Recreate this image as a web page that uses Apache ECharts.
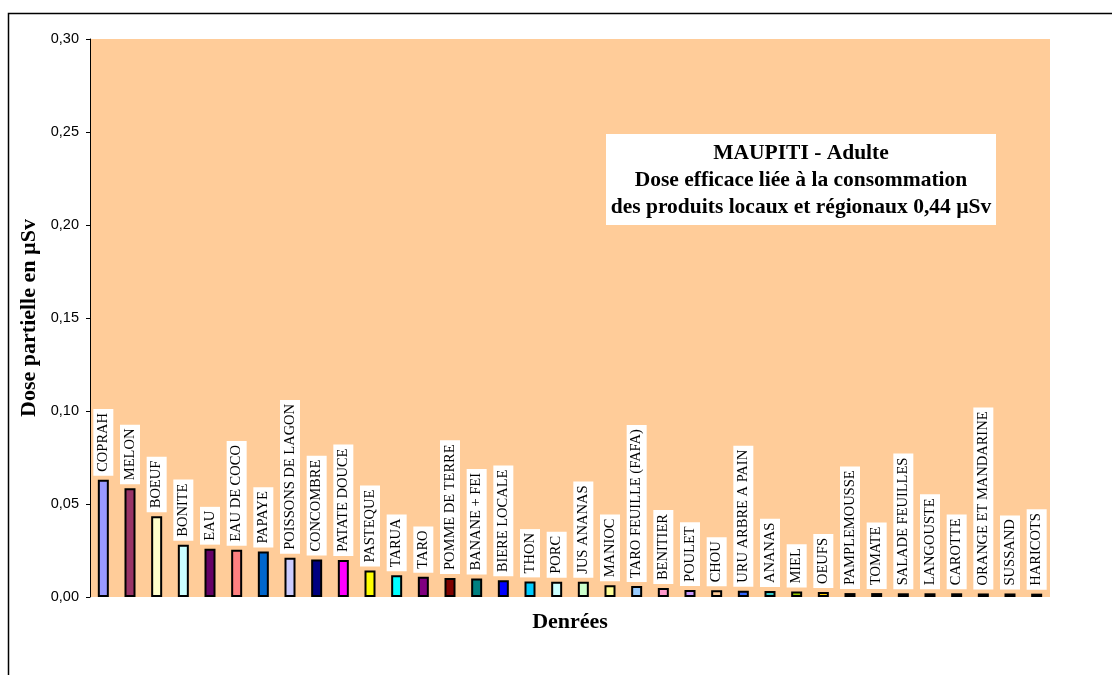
<!DOCTYPE html>
<html>
<head>
<meta charset="utf-8">
<script src="https://cdn.jsdelivr.net/npm/echarts@6/dist/echarts.min.js"></script>
<style>
  html, body { margin: 0; padding: 0; background: #ffffff; }
  #chart { width: 1112px; height: 675px; }
</style>
</head>
<body>
<div id="chart"></div>
<script>
// Food items, in decreasing order of partial dose
const categories = [
  'COPRAH', 'MELON', 'BOEUF', 'BONITE', 'EAU', 'EAU DE COCO', 'PAPAYE',
  'POISSONS DE LAGON', 'CONCOMBRE', 'PATATE DOUCE', 'PASTEQUE', 'TARUA', 'TARO',
  'POMME DE TERRE', 'BANANE + FEI', 'BIERE LOCALE', 'THON', 'PORC', 'JUS ANANAS',
  'MANIOC', 'TARO FEUILLE (FAFA)', 'BENITIER', 'POULET', 'CHOU', 'URU ARBRE A PAIN',
  'ANANAS', 'MIEL', 'OEUFS', 'PAMPLEMOUSSE', 'TOMATE', 'SALADE FEUILLES',
  'LANGOUSTE', 'CAROTTE', 'ORANGE ET MANDARINE', 'SUSSAND', 'HARICOTS'
];

// Partial dose (µSv) per food item
const doses = [
  0.063, 0.0585, 0.0434, 0.0281, 0.026, 0.0254, 0.0244,
  0.0211, 0.0201, 0.0199, 0.0143, 0.0117, 0.0109,
  0.0102, 0.0099, 0.009, 0.0084, 0.0082, 0.0082,
  0.0063, 0.0059, 0.0048, 0.0038, 0.0036, 0.0034,
  0.0032, 0.0029, 0.0027, 0.0021, 0.0021, 0.0020,
  0.0020, 0.0020, 0.0019, 0.0019, 0.0018
];

// Fill colour of each bar
const barColors = [
  '#9999FF', '#993366', '#FFFFCC', '#CCFFFF', '#660066', '#FF8080', '#0066CC',
  '#CCCCFF', '#000080', '#FF00FF', '#FFFF00', '#00FFFF', '#800080',
  '#800000', '#008080', '#0000FF', '#00CCFF', '#CCFFFF', '#CCFFCC',
  '#FFFF99', '#99CCFF', '#FF99CC', '#CC99FF', '#FFCC99', '#3366FF',
  '#33CCCC', '#99CC00', '#FFCC00', '#FF9900', '#FF6600', '#666699',
  '#969696', '#003366', '#339966', '#003300', '#333300'
];

// Y axis scale
const yMin = 0, yMax = 0.30, yStep = 0.05;

const titleLines = [
  'MAUPITI - Adulte',
  'Dose efficace liée à la consommation',
  'des produits locaux et régionaux 0,44 µSv'
];

const serif = '"Liberation Serif", "Times New Roman", Times, serif';
const sans = '"Liberation Sans", Arial, Helvetica, sans-serif';

const chart = echarts.init(document.getElementById('chart'));

chart.setOption({
  animation: false,
  backgroundColor: '#ffffff',
  grid: {
    left: 90, right: 62, top: 39, bottom: 78,
    show: true, backgroundColor: '#FFCC99', borderWidth: 0
  },
  xAxis: {
    type: 'category',
    data: categories,
    name: 'Denrées',
    nameLocation: 'middle',
    nameGap: 14,
    nameTextStyle: { fontFamily: serif, fontWeight: 'bold', fontSize: 22, color: '#000' },
    axisLine: { show: false },
    axisTick: { show: false },
    axisLabel: { show: false },
    splitLine: { show: false }
  },
  yAxis: {
    type: 'value',
    min: yMin, max: yMax, interval: yStep,
    name: 'Dose partielle en µSv',
    nameLocation: 'middle',
    nameGap: 49,
    nameTextStyle: { fontFamily: serif, fontWeight: 'bold', fontSize: 22, color: '#000' },
    axisLine: { show: true, lineStyle: { color: '#000', width: 1 } },
    axisTick: { show: true, inside: false, length: 4, lineStyle: { color: '#000' } },
    axisLabel: {
      fontFamily: sans, fontSize: 14.5, color: '#000', margin: 11,
      formatter: v => v.toFixed(2).replace('.', ',')
    },
    splitLine: { show: false }
  },
  series: [{
    type: 'bar',
    data: doses,
    barWidth: 11,
    itemStyle: {
      color: p => barColors[p.dataIndex],
      borderColor: '#000',
      borderWidth: 2
    },
    label: {
      show: true,
      position: 'top',
      rotate: 90,
      align: 'left',
      verticalAlign: 'middle',
      distance: 4,
      formatter: p => categories[p.dataIndex],
      fontFamily: serif,
      fontSize: 14.5,
      lineHeight: 16,
      color: '#000',
      backgroundColor: '#ffffff',
      padding: [2, 4, 2, 4]
    }
  }],
  graphic: [
    {
      // outer frame of the chart area
      type: 'rect',
      silent: true,
      shape: { x: 8.5, y: 13.5, width: 1200, height: 800 },
      style: { fill: 'none', stroke: '#000', lineWidth: 1.5 }
    },
    {
      type: 'group',
      left: 606, top: 134,
      children: [
        {
          type: 'rect',
          shape: { x: 0, y: 0, width: 390, height: 91 },
          style: { fill: '#ffffff' }
        },
        {
          type: 'text',
          x: 195, y: 46,
          style: {
            text: titleLines.join('\n'),
            fontFamily: serif, fontWeight: 'bold', fontSize: 21.5, lineHeight: 27,
            fill: '#000', align: 'center', verticalAlign: 'middle'
          }
        }
      ]
    }
  ]
});
</script>
</body>
</html>
